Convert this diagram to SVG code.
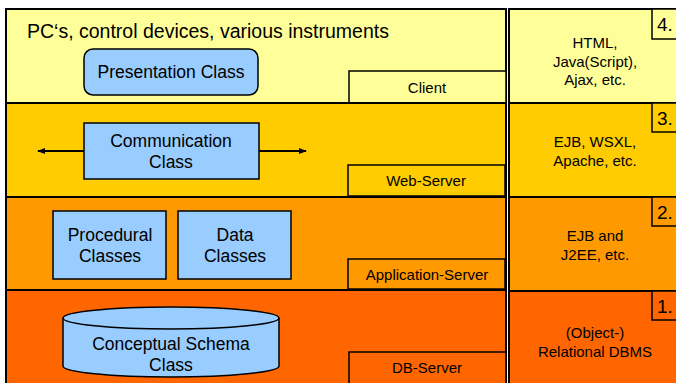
<svg xmlns="http://www.w3.org/2000/svg" width="676" height="383" viewBox="0 0 676 383">
<style>
.band{stroke:#000;stroke-width:2}
.b1{fill:#FFFF99}.b2{fill:#FFCC00}.b3{fill:#FF9900}.b4{fill:#FF6600}
.cls{fill:#99CCFF;stroke:#000;stroke-width:1.5}
.lbl{stroke:#000;stroke-width:1.5}
text{font-family:"Liberation Sans",Arial,sans-serif;fill:#000}
.t15{font-size:17.5px;text-anchor:middle}
.t13{font-size:15px;text-anchor:middle}
.num{font-size:19px}
.conn{stroke:#000;stroke-width:2;fill:none}
</style>
<defs>
<marker id="ah" markerWidth="8" markerHeight="8" refX="7" refY="4" orient="auto" markerUnits="userSpaceOnUse">
<path d="M0,1 L8,4 L0,7 Z" fill="#000"/>
</marker>
</defs>
<rect width="676" height="383" fill="#fff"/>
<g id="client-layer">
<rect class="band b1" x="6" y="9" width="500" height="94"/>
<text x="27" y="38" style="font-size:19.5px">PC‘s, control devices, various instruments</text>
<rect class="lbl b1" x="349" y="71" width="157" height="32"/>
<text class="t13" x="427" y="93">Client</text>
</g>
<g id="webserver-layer">
<rect class="band b2" x="6" y="103" width="500" height="94"/>
<rect class="lbl b2" x="348" y="165" width="157" height="31"/>
<text class="t13" x="426" y="186">Web-Server</text>
</g>
<g id="appserver-layer">
<rect class="band b3" x="6" y="197" width="500" height="93"/>
<rect class="lbl b3" x="348" y="259" width="157" height="30"/>
<text class="t13" x="427" y="280">Application-Server</text>
</g>
<g id="dbserver-layer">
<rect class="band b4" x="6" y="290" width="500" height="100"/>
<rect class="lbl b4" x="349" y="352" width="157" height="40"/>
<text class="t13" x="427" y="373">DB-Server</text>
</g>
<g id="tech-4">
<rect class="band b1" x="509" y="9" width="180" height="94"/>
<rect class="lbl b1" x="652" y="9" width="40" height="30"/>
<text class="num" x="657" y="31">4.</text>
<text class="t13" x="595" y="48">HTML,</text>
<text class="t13" x="595" y="67">Java(Script),</text>
<text class="t13" x="595" y="85">Ajax, etc.</text>
</g>
<g id="tech-3">
<rect class="band b2" x="509" y="103" width="180" height="94"/>
<rect class="lbl b2" x="652" y="103" width="40" height="29"/>
<text class="num" x="657" y="125">3.</text>
<text class="t13" x="595" y="147">EJB, WSXL,</text>
<text class="t13" x="595" y="166">Apache, etc.</text>
</g>
<g id="tech-2">
<rect class="band b3" x="509" y="197" width="180" height="94"/>
<rect class="lbl b3" x="652" y="197" width="40" height="29"/>
<text class="num" x="657" y="219">2.</text>
<text class="t13" x="595" y="241">EJB and</text>
<text class="t13" x="595" y="260">J2EE, etc.</text>
</g>
<g id="tech-1">
<rect class="band b4" x="509" y="291" width="180" height="100"/>
<rect class="lbl b4" x="652" y="291" width="40" height="29"/>
<text class="num" x="657" y="313">1.</text>
<text class="t13" x="595" y="338">(Object-)</text>
<text class="t13" x="595" y="357">Relational DBMS</text>
</g>
<g id="connectors">
<line class="conn" x1="84" y1="151" x2="38" y2="151" marker-end="url(#ah)"/>
<line class="conn" x1="259" y1="151" x2="306" y2="151" marker-end="url(#ah)"/>
</g>
<g id="presentation-class">
<rect class="cls" x="84" y="49" width="174" height="46" rx="9"/>
<text class="t15" x="171" y="78">Presentation Class</text>
</g>
<g id="communication-class">
<rect class="cls" x="84" y="123" width="175" height="56"/>
<text class="t15" x="171" y="147">Communication</text>
<text class="t15" x="171" y="168">Class</text>
</g>
<g id="procedural-classes">
<rect class="cls" x="53" y="211" width="113" height="68"/>
<text class="t15" x="110" y="241">Procedural</text>
<text class="t15" x="110" y="262">Classes</text>
</g>
<g id="data-classes">
<rect class="cls" x="178" y="211" width="113" height="68"/>
<text class="t15" x="235" y="241">Data</text>
<text class="t15" x="235" y="262">Classes</text>
</g>
<g id="conceptual-schema-class">
<path class="cls" d="M63,318 L63,366 A108,11 0 0 0 279,366 L279,318 A108,11 0 0 0 63,318 Z"/>
<path class="cls" d="M63,318 A108,11 0 0 0 279,318"/>
<text class="t15" x="171" y="350">Conceptual Schema</text>
<text class="t15" x="171" y="371">Class</text>
</g>
</svg>
